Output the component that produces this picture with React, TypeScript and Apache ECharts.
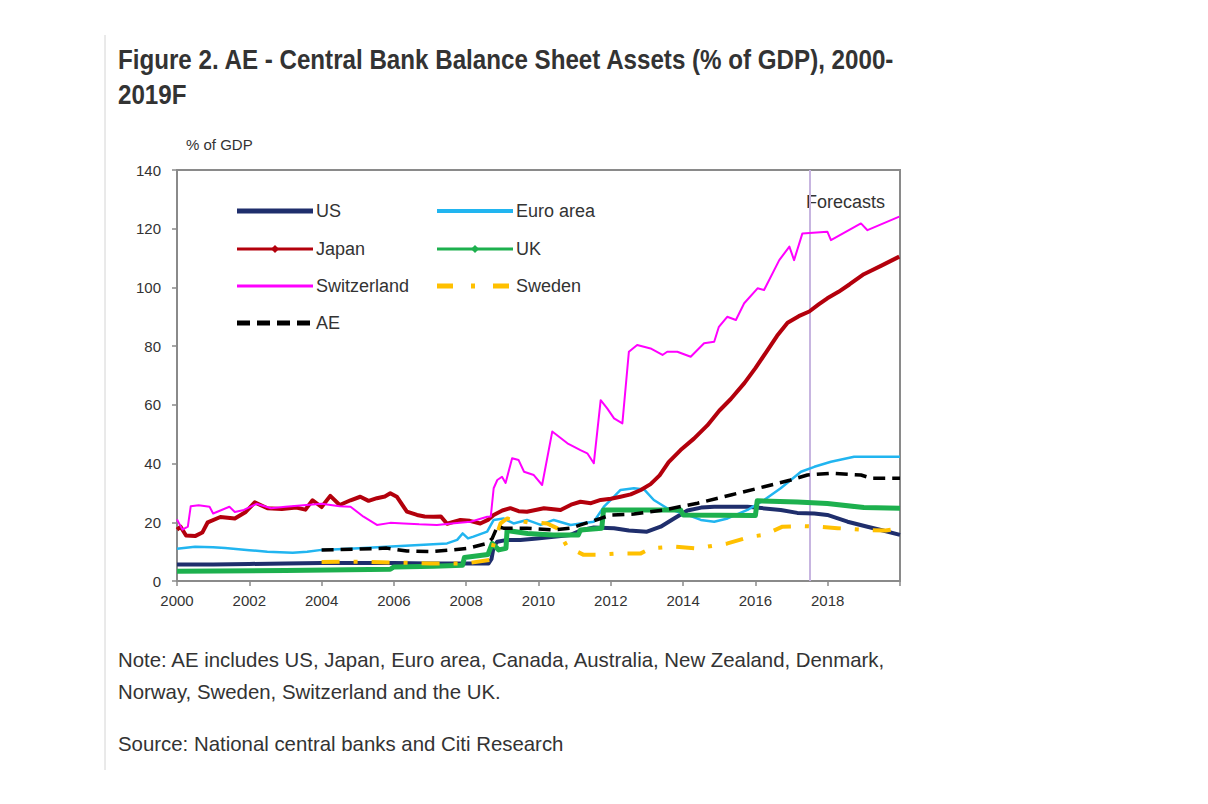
import React, { useEffect, useRef } from "react";
import * as echarts from "echarts";

type Pt = [number, number];

// Central bank balance sheet assets, % of GDP, by decimal year
const usAssets: Pt[] = [
  [2000.0, 5.6], [2001.0, 5.6], [2002.0, 5.8], [2003.0, 6.0], [2004.0, 6.1], [2005.0, 6.1],
  [2006.0, 6.1], [2007.0, 6.0], [2008.0, 6.0], [2008.62, 6.0], [2008.7, 7.5], [2008.76, 11.7],
  [2008.86, 13.4], [2009.13, 14.0], [2009.5, 14.0], [2009.96, 14.5], [2010.42, 15.1],
  [2010.89, 15.7], [2011.16, 17.2], [2011.53, 18.2], [2012.09, 18.0], [2012.5, 17.2],
  [2013.0, 16.8], [2013.38, 18.5], [2013.75, 21.3], [2014.12, 24.0], [2014.5, 25.0],
  [2014.86, 25.3], [2015.78, 25.3], [2016.7, 24.2], [2017.16, 23.2], [2017.63, 23.0],
  [2017.99, 22.5], [2018.55, 20.2], [2019.1, 18.5], [2019.5, 17.3], [2020.0, 15.7],
];

const euroAssets: Pt[] = [
  [2000.0, 11.0], [2000.5, 11.7], [2001.0, 11.5], [2001.33, 11.2], [2002.0, 10.5],
  [2002.5, 10.0], [2003.2, 9.6], [2003.6, 10.0], [2004.0, 10.6], [2004.9, 11.1],
  [2005.8, 11.7], [2006.7, 12.3], [2007.47, 12.8], [2007.75, 14.0], [2007.9, 16.2],
  [2008.05, 14.5], [2008.2, 15.1], [2008.58, 16.8], [2008.76, 20.8], [2009.03, 21.3],
  [2009.31, 19.6], [2009.68, 20.8], [2010.06, 19.1], [2010.42, 20.8], [2010.89, 19.1],
  [2011.16, 19.6], [2011.53, 20.2], [2011.81, 25.3], [2012.0, 27.6], [2012.27, 31.0],
  [2012.64, 31.6], [2012.92, 31.2], [2013.19, 27.6], [2013.56, 24.8], [2014.12, 22.5],
  [2014.49, 20.8], [2014.86, 20.2], [2015.23, 21.3], [2015.78, 24.2], [2016.24, 27.6],
  [2016.7, 31.6], [2017.26, 37.2], [2017.63, 38.9], [2018.09, 40.6], [2018.73, 42.3],
  [2020.0, 42.3],
];

const japanAssets: Pt[] = [
  [2000.0, 17.5], [2000.1, 18.5], [2000.25, 15.5], [2000.5, 15.3], [2000.7, 16.5],
  [2000.85, 20.0], [2001.2, 21.8], [2001.6, 21.3], [2001.9, 23.5], [2002.15, 26.8],
  [2002.5, 24.8], [2002.9, 24.5], [2003.3, 25.0], [2003.55, 24.3], [2003.75, 27.5],
  [2004.0, 25.2], [2004.24, 29.0], [2004.5, 25.9], [2004.8, 27.5], [2005.07, 28.7],
  [2005.3, 27.3], [2005.53, 28.2], [2005.75, 28.8], [2005.9, 29.9], [2006.08, 28.7],
  [2006.36, 23.6], [2006.64, 22.5], [2006.85, 22.0], [2007.1, 21.9], [2007.3, 22.0],
  [2007.47, 19.5], [2007.84, 20.8], [2008.1, 20.5], [2008.39, 19.6], [2008.6, 20.8],
  [2008.76, 22.5], [2009.0, 24.0], [2009.22, 24.8], [2009.45, 23.8], [2009.68, 23.6],
  [2010.15, 24.8], [2010.61, 24.2], [2010.9, 26.0], [2011.16, 27.0], [2011.45, 26.5],
  [2011.72, 27.6], [2012.0, 28.0], [2012.27, 28.7], [2012.55, 29.5], [2012.83, 31.0],
  [2013.1, 33.0], [2013.35, 36.0], [2013.6, 40.5], [2013.93, 44.6], [2014.3, 48.5],
  [2014.67, 53.0], [2015.0, 58.0], [2015.32, 62.0], [2015.7, 67.5], [2016.0, 72.5],
  [2016.3, 78.0], [2016.6, 83.5], [2016.89, 88.0], [2017.2, 90.2], [2017.49, 91.8],
  [2017.75, 94.2], [2017.99, 96.3], [2018.3, 98.5], [2018.6, 101.0], [2019.0, 104.5],
  [2019.5, 107.5], [2019.98, 110.5],
];

const ukAssets: Pt[] = [
  [2000.0, 3.3], [2003.0, 3.6], [2005.9, 4.0], [2006.0, 4.8], [2007.1, 5.0], [2007.9, 5.4],
  [2007.95, 8.0], [2008.6, 9.0], [2008.72, 12.8], [2008.9, 10.6], [2009.1, 11.1],
  [2009.13, 17.2], [2009.7, 16.2], [2010.4, 15.7], [2011.1, 15.7], [2011.16, 17.4],
  [2011.75, 18.0], [2011.8, 24.2], [2013.93, 24.2], [2014.0, 22.5], [2016.0, 22.3],
  [2016.05, 27.3], [2017.16, 26.9], [2017.99, 26.4], [2019.0, 25.0], [2020.0, 24.8],
];

const swissAssets: Pt[] = [
  [2000.0, 21.0], [2000.15, 17.5], [2000.3, 18.5], [2000.38, 25.5], [2000.6, 25.8],
  [2000.9, 25.3], [2001.0, 23.0], [2001.2, 24.0], [2001.45, 25.3], [2001.6, 23.5],
  [2001.85, 24.2], [2002.2, 26.3], [2002.6, 24.8], [2003.0, 25.3], [2003.5, 25.8],
  [2004.0, 26.3], [2004.5, 25.5], [2004.8, 25.3], [2005.16, 21.9], [2005.53, 19.1],
  [2005.9, 19.8], [2006.27, 19.6], [2006.7, 19.3], [2007.19, 19.1], [2007.6, 19.6],
  [2008.12, 20.2], [2008.58, 21.9], [2008.68, 22.0], [2008.76, 31.6], [2008.86, 34.4],
  [2008.99, 35.5], [2009.09, 33.4], [2009.27, 41.8], [2009.45, 41.2], [2009.6, 37.2],
  [2009.87, 36.1], [2010.1, 32.7], [2010.38, 50.9], [2010.8, 46.9], [2011.16, 44.6],
  [2011.35, 43.5], [2011.53, 40.1], [2011.72, 61.6], [2011.9, 58.8], [2012.09, 55.4],
  [2012.32, 53.7], [2012.5, 78.1], [2012.73, 80.4], [2013.1, 79.2], [2013.43, 77.0],
  [2013.56, 78.1], [2013.84, 78.1], [2014.21, 76.4], [2014.58, 81.0], [2014.86, 81.5],
  [2014.99, 86.6], [2015.22, 90.0], [2015.46, 88.9], [2015.69, 94.6], [2016.06, 99.7],
  [2016.24, 99.1], [2016.66, 109.3], [2016.94, 113.9], [2017.07, 109.3], [2017.3, 118.4],
  [2017.99, 119.0], [2018.09, 116.1], [2018.92, 121.8], [2019.1, 119.5], [2019.98, 124.1],
];

const swedenAssets: Pt[] = [
  [2004.0, 6.5], [2005.0, 6.6], [2006.0, 6.3], [2007.0, 6.0], [2008.0, 6.0], [2008.67, 7.2],
  [2008.76, 12.8], [2008.95, 19.6], [2009.13, 21.3], [2009.31, 20.8], [2009.7, 20.0],
  [2010.24, 19.6], [2010.51, 18.0], [2010.79, 11.7], [2011.25, 8.9], [2011.62, 8.9],
  [2012.18, 9.4], [2012.83, 9.4], [2013.1, 11.1], [2013.75, 11.7], [2014.4, 11.1],
  [2014.67, 11.7], [2015.23, 12.8], [2015.87, 15.1], [2016.24, 15.7], [2016.75, 18.5],
  [2017.35, 18.7], [2017.72, 18.5], [2018.27, 18.0], [2019.01, 17.4], [2019.6, 17.2],
  [2020.0, 18.0],
];

const aeAssets: Pt[] = [
  [2004.0, 10.6], [2004.9, 10.8], [2005.8, 11.2], [2006.36, 10.2], [2007.0, 10.0],
  [2007.65, 10.6], [2008.03, 11.1], [2008.58, 12.8], [2008.72, 14.5], [2008.86, 18.5],
  [2009.03, 18.0], [2009.68, 18.0], [2010.42, 17.4], [2010.89, 18.0], [2011.16, 19.1],
  [2011.72, 21.3], [2012.0, 22.5], [2012.64, 22.8], [2013.47, 24.2], [2014.4, 26.5],
  [2015.32, 29.3], [2016.24, 32.1], [2016.98, 34.4], [2017.44, 36.1], [2018.09, 36.7],
  [2018.92, 36.1], [2019.2, 35.0], [2020.0, 35.0],
];

const forecastStart = 2017.5;
const xMin = 2000;
const xMax = 2020;
const yMax = 140;

const FONT = "'Liberation Sans', Arial, sans-serif";

type SeriesDef = {
  name: string;
  data: Pt[];
  color: string;
  width: number;
  dash: "solid" | number[];
  marker?: boolean;
  legendWidth: number;
  legendDash?: number[];
};

const seriesDefs: SeriesDef[] = [
  { name: "US", data: usAssets, color: "#1F2E6C", width: 4, dash: "solid", legendWidth: 5 },
  { name: "Euro area", data: euroAssets, color: "#21B5F0", width: 2.5, dash: "solid", legendWidth: 4 },
  { name: "Japan", data: japanAssets, color: "#B3000C", width: 4, dash: "solid", marker: true, legendWidth: 3 },
  { name: "UK", data: ukAssets, color: "#1DB04E", width: 5, dash: "solid", marker: true, legendWidth: 3 },
  { name: "Switzerland", data: swissAssets, color: "#FF00FF", width: 2, dash: "solid", legendWidth: 3 },
  { name: "Sweden", data: swedenAssets, color: "#FFC000", width: 4, dash: [18, 14, 4, 14], legendWidth: 5, legendDash: [16, 18, 4, 18] },
  { name: "AE", data: aeAssets, color: "#000000", width: 3.5, dash: [12, 7], legendWidth: 5, legendDash: [13, 7] },
];

// legend layout: two columns, rows top to bottom
const legendSlots: Record<string, [number, number]> = {
  US: [237, 211],
  Japan: [237, 249],
  Switzerland: [237, 286],
  AE: [237, 323],
  "Euro area": [437, 211],
  UK: [437, 249],
  Sweden: [437, 286],
};
const legendLineLen = 76;

function textEl(text: string, x: number, y: number, font: string, fill = "#333333", scaleX = 1) {
  return {
    type: "text",
    x,
    y,
    scaleX,
    style: {
      text,
      font,
      fill,
      align: "left",
      verticalAlign: "middle",
      textAlign: "left",
      textVerticalAlign: "middle",
    },
  };
}

function buildLegend() {
  const els: any[] = [];
  seriesDefs.forEach((s) => {
    const [x, y] = legendSlots[s.name];
    els.push({
      type: "line",
      shape: { x1: x, y1: y, x2: x + legendLineLen, y2: y },
      style: { stroke: s.color, lineWidth: s.legendWidth, lineDash: s.legendDash || null },
    });
    if (s.marker) {
      const cx = x + legendLineLen / 2;
      els.push({
        type: "polygon",
        shape: { points: [[cx, y - 4], [cx + 4, y], [cx, y + 4], [cx - 4, y]] },
        style: { fill: s.color },
      });
    }
    els.push(textEl(s.name, x + legendLineLen + 3, y, `18px ${FONT}`));
  });
  return els;
}

export default function App() {
  const ref = useRef<HTMLDivElement>(null);

  useEffect(() => {
    if (!ref.current) return;
    const chart = echarts.init(ref.current, undefined, { renderer: "svg" });

    const series: any[] = seriesDefs.map((s, i) => ({
      type: "line",
      name: s.name,
      data: s.data,
      symbol: "none",
      showSymbol: false,
      smooth: false,
      z: 2 + i,
      lineStyle: { color: s.color, width: s.width, type: s.dash, cap: "butt", join: "round" },
      itemStyle: { color: s.color },
      emphasis: { disabled: true },
    }));

    series[series.length - 1].markLine = {
      silent: true,
      symbol: "none",
      label: { show: false },
      lineStyle: { color: "#C7B5E0", width: 2, type: "solid" },
      data: [{ xAxis: forecastStart }],
      z: 1,
    };

    chart.setOption({
      animation: false,
      backgroundColor: "#ffffff",
      textStyle: { fontFamily: FONT },
      grid: {
        left: 177,
        top: 170,
        width: 723,
        height: 411,
        show: true,
        borderColor: "#8a8a8a",
        borderWidth: 2,
        containLabel: false,
      },
      xAxis: {
        type: "value",
        min: xMin,
        max: xMax,
        interval: 2,
        splitLine: { show: false },
        axisLine: { show: true, lineStyle: { color: "#8a8a8a", width: 2 } },
        axisTick: { show: true, inside: false, length: 5, lineStyle: { color: "#8a8a8a", width: 1.5 } },
        axisLabel: {
          color: "#333333",
          fontSize: 15,
          fontFamily: FONT,
          margin: 12,
          formatter: (v: number) => (v === xMax ? "" : String(v)),
        },
      },
      yAxis: {
        type: "value",
        min: 0,
        max: yMax,
        interval: 20,
        name: "% of GDP",
        nameLocation: "end",
        nameGap: 18,
        nameTextStyle: { color: "#333333", fontSize: 15, fontFamily: FONT, align: "left", padding: [0, 0, 0, 9] },
        splitLine: { show: false },
        axisLine: { show: true, lineStyle: { color: "#8a8a8a", width: 2 } },
        axisTick: { show: true, inside: false, length: 5, lineStyle: { color: "#8a8a8a", width: 1.5 } },
        axisLabel: { color: "#333333", fontSize: 15, fontFamily: FONT, margin: 16 },
      },
      series,
      graphic: [
        {
          type: "line",
          shape: { x1: 105, y1: 35, x2: 105, y2: 770 },
          style: { stroke: "#d4d4d4", lineWidth: 1 },
        },
        textEl("Figure 2. AE - Central Bank Balance Sheet Assets (% of GDP), 2000-", 118, 60, `bold 27px ${FONT}`, "#333333", 0.895),
        textEl("2019F", 118, 95, `bold 27px ${FONT}`, "#333333", 0.895),
        textEl("Forecasts", 806, 202, `18px ${FONT}`),
        textEl("Note: AE includes US, Japan, Euro area, Canada, Australia, New Zealand, Denmark,", 118, 660, `20.4px ${FONT}`),
        textEl("Norway, Sweden, Switzerland and the UK.", 118, 692, `20.4px ${FONT}`),
        textEl("Source: National central banks and Citi Research", 118, 744, `20.4px ${FONT}`),
        ...buildLegend(),
      ],
    });

    return () => chart.dispose();
  }, []);

  return (
    <div
      ref={ref}
      style={{ position: "absolute", left: 0, top: 0, width: 1208, height: 804, background: "#fff" }}
    />
  );
}
